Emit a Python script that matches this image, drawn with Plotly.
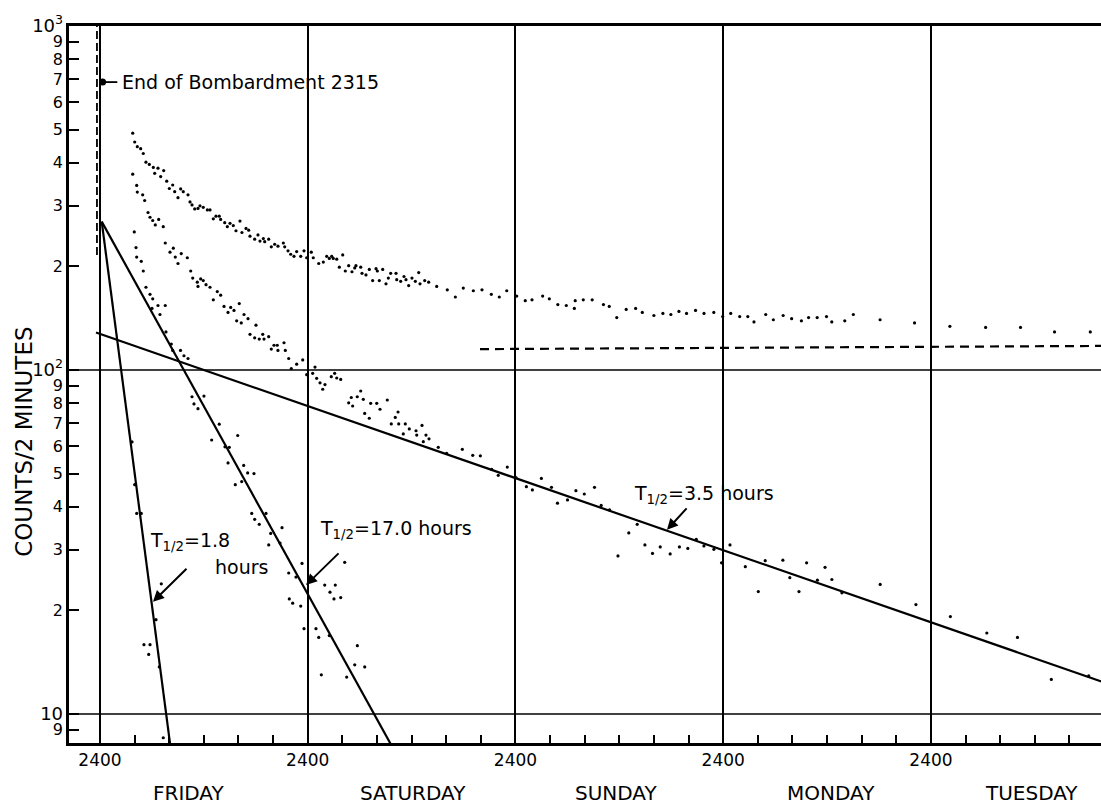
import numpy as np
import plotly.graph_objects as go

# ---------------- data (hours after the first 2400, counts per 2 minutes) -------------
upper_h = [3.78,4.01,4.31,4.70,5.00,5.31,5.70,6.16,6.32,6.70,
           7.01,7.36,7.71,8.01,8.40,8.63,9.01,9.32,9.62,10.17,
           10.40,10.63,10.94,11.32,11.55,11.93,12.40,12.71,13.09,13.40,
           13.78,13.94,14.41,14.71,15.02,15.40,15.71,16.17,16.40,16.87,
           17.18,17.33,17.87,18.25,18.48,18.87,19.03,19.49,19.79,20.18,
           20.56,21.18,21.34,21.72,22.03,22.41,22.72,23.19,23.57,23.88,
           24.41,24.64,25.27,25.80,26.19,26.49,26.77,26.95,27.35,28.04,
           27.65,28.34,28.73,29.11,29.43,29.57,30.12,30.27,30.73,31.11,
           31.50,31.89,32.04,32.27,32.66,33.04,33.31,33.58,34.20,34.28,
           34.74,35.12,35.35,35.66,36.04,36.43,36.82,36.97,37.51,37.97,
           38.90,40.12,41.05,41.97,43.13,44.13,45.21,46.13,46.99,48.14,
           49.13,49.91,51.14,51.91,52.89,53.87,54.80,54.90,55.83,56.86,
           58.16,58.83,59.70,60.79,61.88,62.65,63.99,65.03,65.95,66.88,
           67.76,68.80,69.78,70.91,71.94,72.87,73.90,74.84,75.55,76.91,
           77.79,78.92,79.90,81.03,81.86,82.85,83.93,84.54,86.04,87.03,
           90.12,94.10,98.18,102.31,106.34,110.27,114.40]
upper_c = [488,460,446,440,426,402,396,388,373,386,
           365,380,354,337,345,330,317,336,330,323,
           308,302,294,295,300,297,292,292,275,280,
           280,274,268,261,267,263,254,271,251,258,
           255,245,240,247,237,241,236,240,228,232,
           229,234,228,222,217,214,221,214,222,212,
           220,212,204,206,214,211,214,211,210,216,
           199,194,201,193,198,201,199,191,189,196,
           182,197,194,182,196,178,185,191,191,183,
           181,187,183,176,185,181,192,178,182,180,
           175,171,163,173,170,171,166,163,170,164,
           159,160,164,161,155,154,151,159,160,160,
           155,153,142,150,151,147,144,146,145,148,
           146,149,146,147,143,146,143,143,138,145,
           140,144,141,139,142,142,143,138,139,145,
           140,137,134,133,133,129,129]

middle_h = [3.78,4.24,4.31,4.93,5.16,5.55,5.78,6.09,6.39,6.78,
            7.31,7.54,8.09,8.47,8.70,9.01,9.39,10.09,10.48,10.71,
            11.24,11.32,11.63,11.93,12.25,12.71,13.09,13.55,13.94,14.33,
            14.79,15.10,15.48,16.09,16.64,17.10,15.79,16.32,17.33,17.87,
            18.02,18.40,18.80,18.95,19.49,19.79,20.10,20.48,20.56,21.26,
            21.41,21.80,22.10,22.72,23.42,23.88,24.57,25.03,25.42,25.73,
            25.99,26.72,27.11,27.35,27.81,24.84,28.73,29.03,29.19,29.72,
            30.12,30.42,30.58,31.11,31.27,31.97,32.35,33.19,33.65,34.11,
            34.43,34.51,35.27,35.04,35.73,36.51,36.59,37.20,37.35,37.66,
            38.01,39.08,40.05,41.86,43.06,43.94,45.25,46.01,47.05,48.05,
            49.26,49.95,50.99,52.16,52.85,54.01,54.98,55.95,57.13,57.90,
            58.87,59.84,61.09,62.06,62.95,63.83,64.72,65.87,66.94,67.91,
            68.88,69.77,70.92,71.80,72.78,74.55,76.05,76.85,78.89,79.69,
            80.75,81.63,82.88,83.76,84.55,85.71,90.13,94.26,98.24,102.45,
            105.99,109.90,114.22]
middle_c = [371,344,329,323,311,287,278,272,264,274,
            261,234,220,226,213,204,218,212,194,185,
            180,175,184,182,177,174,160,169,165,153,
            147,152,149,156,145,141,139,137,127,124,
            135,123,127,123,125,115,118,118,114,120,
            114,108,101,104,107,96.9,97.8,94.6,91.8,87.9,
            90.7,95.6,97.8,94.8,93.9,102,80.3,83.2,78.6,83.6,
            86.9,82.2,74.8,72.4,80.0,80.0,76.9,81.8,69.7,72.8,
            75.5,69.7,69.7,65.2,67.4,66.6,64.7,69.0,61.9,64.7,
            63.1,59.6,57.2,58.8,56.5,56.3,51.4,49.4,52.2,48.7,
            45.8,44.8,48.4,45.6,41.0,41.9,44.6,43.6,45.6,40.4,
            39.2,28.8,33.6,35.6,31.0,29.3,30.6,29.2,30.6,30.3,
            32.2,30.8,30.1,27.5,31.0,26.8,22.7,27.9,28.0,24.9,
            22.7,27.5,24.5,26.7,24.6,22.5,23.8,20.8,19.2,17.2,
            16.7,12.6,12.9]

lower_h = [3.96,4.16,4.24,4.77,5.00,5.31,5.78,6.09,6.01,6.70,
           6.93,7.54,7.62,8.24,8.40,9.30,9.70,10.17,10.63,12.01,
           10.86,11.32,13.78,12.90,14.44,14.94,15.91,14.79,16.60,17.06,
           17.79,15.63,16.37,17.53,17.87,18.40,19.18,21.03,19.72,20.80,
           19.49,23.34,21.80,22.64,28.27,25.96,26.57,27.18,27.03,27.81,
           21.87,22.26,23.19,23.57,24.95,25.27,26.49,29.73,29.43,30.58,
           25.57,28.50]
lower_c = [252,227,213,207,194,174,166,161,151,154,
           145,154,129,119,114,114,110,108,83.6,84.0,
           79.7,77.2,69.6,62.6,59.8,59.6,64.5,53.7,52.8,50.2,
           50.0,46.4,47.4,38.3,36.8,35.6,38.3,34.8,33.5,31.4,
           31.0,27.4,25.7,25.0,27.6,23.7,22.6,23.7,21.6,21.8,
           21.6,21.0,20.6,17.7,17.7,16.7,16.9,15.8,13.9,13.7,
           13.0,12.8]

early_h = [3.70,4.01,4.24,4.77,7.08,6.47,5.08,5.78,5.63,6.85,7.31]
early_c = [61.8,46.4,38.3,38.3,23.9,18.8,15.9,15.9,14.9,13.7,8.53]

# fitted decay lines (end points)
fit18_h, fit18_c = [0.2, 8.5], [270, 6.85]
fit17_h, fit17_c = [0.2, 35.0], [270, 7.05]
fit35_h, fit35_c = [-0.46, 120.0], [128.5, 11.4]

# background level (dashed) and end of bombardment marker
bg_h, bg_c = [43.9, 116.0], [115, 117.5]
eob_h, eob_c = [-0.35, -0.35], [216, 1000]
eob_dot_h, eob_dot_c = [0.3], [687]

day_ticks = [0, 24, 48, 72, 96]
day_tick_text = ["2400"] * 5
day_names = ["FRIDAY", "SATURDAY", "SUNDAY", "MONDAY", "TUESDAY"]
day_name_h = [10.28, 36.16, 59.6, 84.45, 107.56]

DEC = "<span style='font-size:18px'>10<sup>%s</sup></span>"
y_tickvals = [9, 10, 20, 30, 40, 50, 60, 70, 80, 90, 100,
              200, 300, 400, 500, 600, 700, 800, 900, 1000]
y_ticktext = ["9", "<span style='font-size:18px'>10</span>", "2", "3", "4", "5", "6", "7", "8", "9",
              DEC % "2", "2", "3", "4", "5", "6", "7", "8", "9", DEC % "3"]

XR = [-3.58, 115.64]
YR = [0.9157, 3.0]
FONT = "DejaVu Sans"
BLK = "black"

fig = go.Figure()

# horizontal decade grid lines
for lv in (10, 100):
    fig.add_trace(go.Scatter(x=XR, y=[lv, lv], mode="lines",
                             line=dict(color=BLK, width=1.6),
                             hoverinfo="skip", showlegend=False))

# dashed lines
fig.add_trace(go.Scatter(x=eob_h, y=eob_c, mode="lines",
                         line=dict(color=BLK, width=1.8, dash="8px,4px"),
                         showlegend=False))
fig.add_trace(go.Scatter(x=bg_h, y=bg_c, mode="lines",
                         line=dict(color=BLK, width=2.2, dash="9px,6px"),
                         showlegend=False))

# fitted lines
for hh, cc in ((fit18_h, fit18_c), (fit17_h, fit17_c), (fit35_h, fit35_c)):
    fig.add_trace(go.Scatter(x=hh, y=cc, mode="lines",
                             line=dict(color=BLK, width=2.2),
                             showlegend=False))

# end of bombardment marker with leader
fig.add_trace(go.Scatter(x=[eob_dot_h[0], 2.0], y=[eob_dot_c[0], eob_dot_c[0]],
                         mode="lines", line=dict(color=BLK, width=1.8),
                         showlegend=False))
fig.add_trace(go.Scatter(x=eob_dot_h, y=eob_dot_c, mode="markers",
                         marker=dict(color=BLK, size=7), showlegend=False))

# measured points
for name, hh, cc in (("upper", upper_h, upper_c), ("middle", middle_h, middle_c),
                     ("lower", lower_h, lower_c), ("early", early_h, early_c)):
    fig.add_trace(go.Scatter(x=hh, y=cc, mode="markers", name=name,
                             marker=dict(color=BLK, size=3.2),
                             showlegend=False))

ann = []
tfont = dict(family=FONT, size=19, color=BLK)
ann.append(dict(x=2.31, y=np.log10(687), xref="x", yref="y", text="End of Bombardment 2315",
                showarrow=False, xanchor="left", yanchor="middle", font=tfont))
ann.append(dict(x=5.55, y=np.log10(31.8), xref="x", yref="y", text="T<sub>1/2</sub>=1.8",
                showarrow=False, xanchor="left", yanchor="middle", font=tfont))
ann.append(dict(x=13.05, y=np.log10(26.7), xref="x", yref="y", text="hours",
                showarrow=False, xanchor="left", yanchor="middle", font=tfont))
ann.append(dict(x=25.18, y=np.log10(34.3), xref="x", yref="y", text="T<sub>1/2</sub>=17.0 hours",
                showarrow=False, xanchor="left", yanchor="middle", font=tfont))
ann.append(dict(x=61.46, y=np.log10(43.4), xref="x", yref="y", text="T<sub>1/2</sub>=3.5 hours",
                showarrow=False, xanchor="left", yanchor="middle", font=tfont))

# arrows (tail -> tip)
for (th, tc, ph, pc) in ((10.17, 26.7, 6.12, 21.2),
                         (27.73, 29.6, 23.80, 23.7),
                         (67.93, 40.0, 65.50, 34.3)):
    ann.append(dict(x=ph, y=np.log10(pc), ax=th, ay=np.log10(tc),
                    xref="x", yref="y", axref="x", ayref="y", text="",
                    showarrow=True, arrowhead=2, arrowsize=1.1, arrowwidth=2,
                    arrowcolor=BLK))

for nm, hx in zip(day_names, day_name_h):
    ann.append(dict(x=hx, y=-0.0697, xref="x", yref="paper", text=nm, showarrow=False,
                    xanchor="center", yanchor="middle",
                    font=dict(family=FONT, size=20, color=BLK)))

ann.append(dict(x=-0.0436, y=0.42, xref="paper", yref="paper", text="COUNTS/2 MINUTES",
                textangle=-90, showarrow=False, xanchor="center", yanchor="middle",
                font=dict(family=FONT, size=23, color=BLK)))

fig.update_layout(
    width=1101, height=809,
    margin=dict(l=69, r=0, t=26, b=66),
    paper_bgcolor="white", plot_bgcolor="white",
    font=dict(family=FONT, color=BLK),
    annotations=ann,
    showlegend=False,
)
fig.update_xaxes(range=XR, autorange=False, tickmode="array", tickvals=day_ticks,
                 ticktext=day_tick_text, showgrid=True, gridcolor=BLK, gridwidth=1.6,
                 zeroline=False, showline=True, linecolor=BLK, linewidth=2.5, mirror=True,
                 ticks="", tickfont=dict(family=FONT, size=17, color=BLK),
                 minor=dict(tickmode="linear", tick0=0, dtick=4, ticks="inside",
                            ticklen=8, tickwidth=2, tickcolor=BLK, showgrid=False))
fig.update_yaxes(type="log", range=YR, autorange=False, tickmode="array",
                 tickvals=y_tickvals, ticktext=y_ticktext, showgrid=False, zeroline=False,
                 showline=True, linecolor=BLK, linewidth=2.5, mirror=False,
                 ticks="inside", ticklen=10, tickwidth=2, tickcolor=BLK,
                 tickfont=dict(family=FONT, size=16, color=BLK))

fig.write_html("out.html", config={"displayModeBar": False},
               post_script="document.body.style.margin='0';document.body.style.overflow='hidden';")
